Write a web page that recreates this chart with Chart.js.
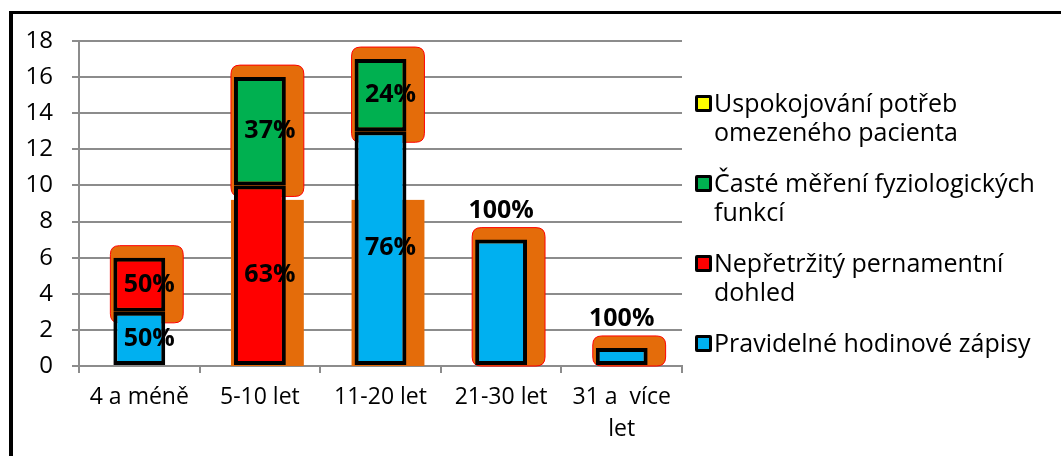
<!DOCTYPE html>
<html>
<head>
<meta charset="utf-8">
<script src="https://cdn.jsdelivr.net/npm/chart.js@4"></script>
<style>
    html, body { margin: 0; padding: 0; background: #fff; }
    body { width: 1061px; height: 456px; position: relative; overflow: hidden; font-family: "Open Sans", sans-serif; }
    #frame { position: absolute; left: 9px; top: 11px; right: -10px; bottom: -10px; border-left: 4px solid #000; border-top: 3px solid #000; }
    #wrap { position: absolute; left: 0; top: 0; width: 1061px; height: 456px; }
    #legend { position: absolute; left: 695px; top: 88px; width: 366px; }
    .item { position: relative; padding-left: 19px; font-size: 25px; line-height: 29px; color: #000; margin-bottom: 22px; width: 342px; white-space: normal; }
    .box { position: absolute; left: 0; top: 7px; width: 11px; height: 11px; border: 3px solid #000; border-radius: 2px; }
</style>
</head>
<body>
<div id="frame"></div>
<div id="wrap"><canvas id="myChart" width="1061" height="456"></canvas></div>
<div id="legend"></div>
<script>
// categories and values (stacked, bottom to top)
const categories = ['4 a méně', '5-10 let', '11-20 let', '21-30 let', ['31 a  více', 'let']];
const seriesNames = [
    'Pravidelné hodinové zápisy',
    'Nepřetržitý pernamentní dohled',
    'Časté měření fyziologických funkcí',
    'Uspokojování potřeb omezeného pacienta'
];
const pravidelne = [3, null, 13, 7, 1];
const neprerusity = [3, 10, null, null, null];
const caste = [null, 6, 4, null, null];
const uspokojovani = [null, null, null, null, null];

// percentage labels shown on the bars
const pravidelneLbl = ['50%', null, '76%', '100%', '100%'];
const neprerusityLbl = ['50%', '63%', null, null, null];
const casteLbl = [null, '37%', '24%', null, null];
const uspokojovaniLbl = [null, null, null, null, null];

const yTicks = [0, 2, 4, 6, 8, 10, 12, 14, 16, 18];

const colors = ['#00B0F0', '#FF0000', '#00B050', '#FFFF00'];
const shadowCut = 9.2;

document.addEventListener("DOMContentLoaded", function () {

    const values = [pravidelne, neprerusity, caste, uspokojovani];
    const labels = [pravidelneLbl, neprerusityLbl, casteLbl, uspokojovaniLbl];

    // html legend, drawn in reverse like the original
    const legend = document.getElementById('legend');
    for (let i = seriesNames.length - 1; i >= 0; i--) {
        let item = document.createElement('div');
        item.className = 'item';
        let box = document.createElement('span');
        box.className = 'box';
        box.style.backgroundColor = colors[i];
        item.appendChild(box);
        item.appendChild(document.createTextNode(seriesNames[i]));
        legend.appendChild(item);
    }

    function roundRect(ctx, x, y, w, h, r) {
        ctx.beginPath();
        ctx.moveTo(x + r, y);
        ctx.lineTo(x + w - r, y);
        ctx.quadraticCurveTo(x + w, y, x + w, y + r);
        ctx.lineTo(x + w, y + h - r);
        ctx.quadraticCurveTo(x + w, y + h, x + w - r, y + h);
        ctx.lineTo(x + r, y + h);
        ctx.quadraticCurveTo(x, y + h, x, y + h - r);
        ctx.lineTo(x, y + r);
        ctx.quadraticCurveTo(x, y, x + r, y);
        ctx.closePath();
    }

    // orange "shadow" behind each stack
    const shadowPlugin = {
        id: 'shadow',
        beforeDatasetsDraw(chart) {
            const ctx = chart.ctx;
            const yScale = chart.scales.y;
            const base = yScale.getPixelForValue(0);
            ctx.save();
            ctx.fillStyle = '#E46C0A';
            ctx.strokeStyle = '#FF0000';
            ctx.lineWidth = 1;
            for (let c = 0; c < categories.length; c++) {
                let top = null, lower = null;
                for (let d = 0; d < values.length; d++) {
                    if (values[d][c] == null) continue;
                    const el = chart.getDatasetMeta(d).data[c];
                    if (top) lower = top;
                    top = el;
                }
                if (!top) continue;
                const left = top.x - top.width / 2 - 3;
                const w = top.width + 21;
                const y0 = top.y - 12;
                const y1 = lower ? top.base + 11 : base;
                roundRect(ctx, left, y0, w, y1 - y0, 9);
                ctx.fill();
                ctx.stroke();
                if (lower && lower.y < yScale.getPixelForValue(shadowCut)) {
                    const yc = yScale.getPixelForValue(shadowCut);
                    ctx.fillRect(left, yc, w, base - yc);
                }
            }
            ctx.restore();
        }
    };

    const labelPlugin = {
        id: 'pctLabels',
        afterDatasetsDraw(chart) {
            const ctx = chart.ctx;
            ctx.save();
            ctx.font = 'bold 25px "Open Sans"';
            ctx.fillStyle = '#000';
            ctx.textAlign = 'center';
            ctx.textBaseline = 'middle';
            for (let c = 0; c < categories.length; c++) {
                let count = 0;
                for (let d = 0; d < values.length; d++) if (values[d][c] != null) count++;
                for (let d = 0; d < values.length; d++) {
                    const txt = labels[d][c];
                    if (!txt) continue;
                    const el = chart.getDatasetMeta(d).data[c];
                    if (count > 1 || values[d][c] > 8) {
                        ctx.fillText(txt, el.x + 10, (el.y + el.base) / 2);
                    } else {
                        ctx.fillText(txt, el.x, el.y - 29);
                    }
                }
            }
            ctx.restore();
        }
    };

    const ctx = document.getElementById('myChart').getContext('2d');
    const chart = new Chart(ctx, {
        type: 'bar',
        data: {
            labels: categories,
            datasets: values.map(function (v, i) {
                return {
                    label: seriesNames[i],
                    data: v,
                    backgroundColor: colors[i],
                    borderColor: '#000',
                    borderWidth: 4,
                    borderSkipped: false,
                    barPercentage: 0.43,
                    categoryPercentage: 1
                };
            })
        },
        options: {
            responsive: false,
            animation: false,
            layout: { padding: { left: 0, top: 41, right: 379, bottom: 0 } },
            plugins: {
                legend: { display: false },
                tooltip: { enabled: false }
            },
            scales: {
                x: {
                    stacked: true,
                    afterFit: function (scale) { scale.height = 90; },
                    grid: { offset: true, drawOnChartArea: false, drawTicks: true, tickLength: 7, color: '#8c8c8c', lineWidth: 2 },
                    border: { color: '#8c8c8c', width: 2 },
                    ticks: { color: '#000', padding: 8, font: { family: '"Open Sans"', size: 23, lineHeight: 1.4 } }
                },
                y: {
                    stacked: true,
                    min: 0,
                    max: 18,
                    afterFit: function (scale) { scale.width = 79; },
                    afterBuildTicks: function (scale) { scale.ticks = yTicks.map(v => ({ value: v })); },
                    grid: { color: '#8c8c8c', lineWidth: 2, tickLength: 7 },
                    border: { color: '#8c8c8c', width: 2 },
                    ticks: { color: '#000', padding: 19, font: { family: '"Open Sans"', size: 24 } }
                }
            }
        },
        plugins: [shadowPlugin, labelPlugin]
    });
});
</script>
</body>
</html>
